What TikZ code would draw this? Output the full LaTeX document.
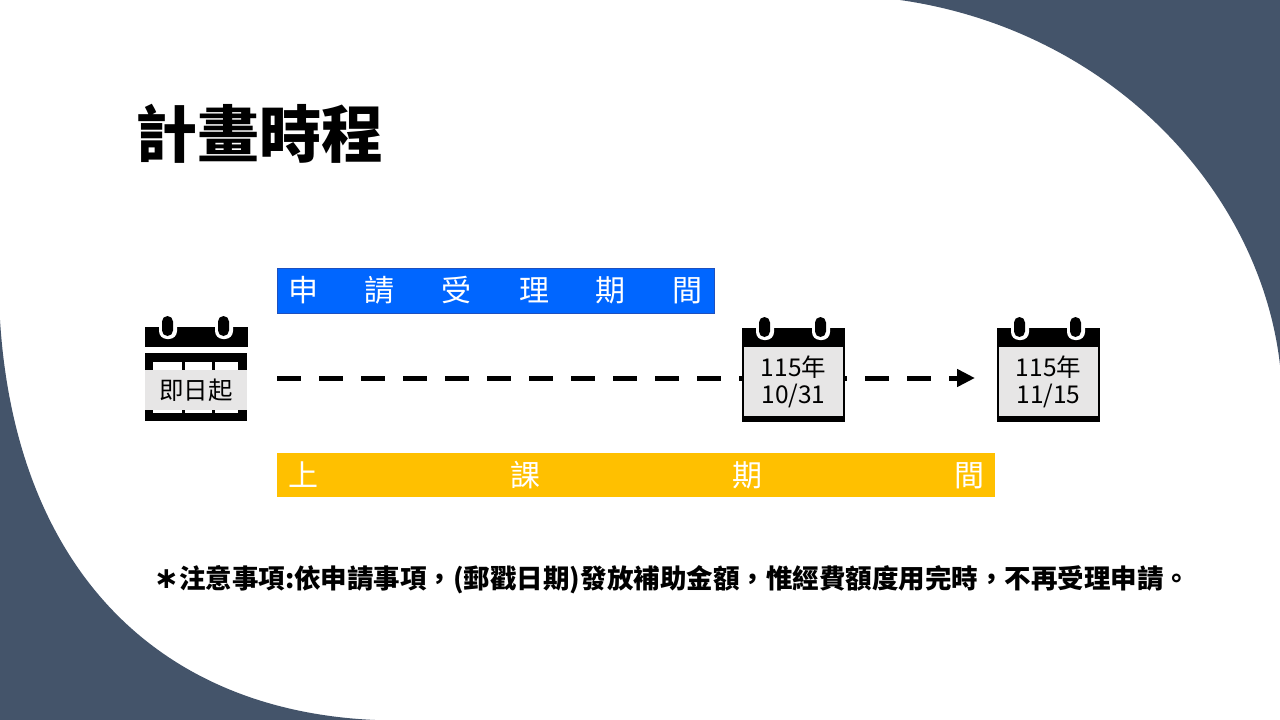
\documentclass[tikz,border=0pt]{standalone}
\usepackage{fontspec}
\setmainfont{Noto Sans CJK TC}
\newfontfamily\djv{DejaVu Sans}
\usetikzlibrary{arrows.meta}
\definecolor{slate}{RGB}{68,84,106}
\definecolor{barblue}{RGB}{0,102,255}
\definecolor{baredge}{RGB}{30,80,190}
\definecolor{baryellow}{RGB}{255,192,0}
\definecolor{calgray}{RGB}{231,230,230}
\tikzset{
  caltext/.style={fill=calgray, font=\fontsize{24.5}{27}\selectfont, align=center, inner sep=0pt, text=black},
  bartext/.style={font=\fontsize{30}{32}\selectfont, text=white, inner sep=0pt},
  timearrow/.style={line width=5pt, dash pattern=on 24pt off 18pt, -{Triangle[length=18pt,width=17pt]}},
}
\newcommand\calhead[2]{%
  \fill[black] (#1,#2) rectangle ++(103,20);
  \fill[white, rounded corners=8pt] (#1+14,#2-14) rectangle ++(18,26);
  \fill[white, rounded corners=8pt] (#1+70,#2-14) rectangle ++(18,26);
  \fill[black, rounded corners=5.5pt] (#1+17,#2-11) rectangle ++(11,20);
  \fill[black, rounded corners=5.5pt] (#1+73,#2-11) rectangle ++(11,20);
}
\begin{document}
\begin{tikzpicture}[x=1pt,y=-1pt]
\useasboundingbox (0,0) rectangle (1280,720);
% background
\fill[white] (0,0) rectangle (1280,720);
\fill[slate] (900,0) .. controls (1110,30) and (1260,190) .. (1280,365) -- (1280,0) -- cycle;
\fill[slate] (0,320) .. controls (15,560) and (150,710) .. (375,720) -- (0,720) -- cycle;
% title
\node[font=\fontsize{62}{70}\selectfont\bfseries, inner sep=0pt] (title) at (259,134) {計畫時程};
% bars
\node[fill=barblue, draw=baredge, line width=0.8pt, minimum width=437pt, minimum height=45pt, bartext] (apply) at (495.5,290.5)
  {\hbox to 415pt{申\hfill 請\hfill 受\hfill 理\hfill 期\hfill 間}};
\node[fill=baryellow, minimum width=718pt, minimum height=44pt, bartext] (course) at (636,475)
  {\hbox to 696pt{上\hfill 課\hfill 期\hfill 間}};
% arrow
\coordinate (a0) at (277,378);
\coordinate (a1) at (975,378);
\draw[timearrow] (a0) -- (a1);
% left calendar
\calhead{145}{327}
\fill[black] (145,353) rectangle (247,421);
\fill[white] (153,362) rectangle (182,413);
\fill[white] (185,362) rectangle (212,413);
\fill[white] (215,362) rectangle (238,413);
\node[caltext, minimum width=102pt, minimum height=40pt] (c1) at (196,390) {即日起};
% middle calendar
\calhead{742}{328}
\fill[black] (742,347) rectangle (845,422);
\node[caltext, minimum width=99pt, minimum height=69pt] (c2) at (793.5,381.5) {115年\\10/31};
% right calendar
\calhead{997}{328}
\fill[black] (997,347) rectangle (1100,422);
\node[caltext, minimum width=99pt, minimum height=69pt] (c3) at (1048.5,381.5) {115年\\11/15};
% note
\node[font=\fontsize{26.5}{30}\selectfont\bfseries, inner sep=0pt] (note) at (672,580)
  {{\djv\bfseries\fontsize{30}{30}\selectfont ∗}注意事項:依申請事項，(郵戳日期)發放補助金額，惟經費額度用完時，不再受理申請。};
\end{tikzpicture}
\end{document}
